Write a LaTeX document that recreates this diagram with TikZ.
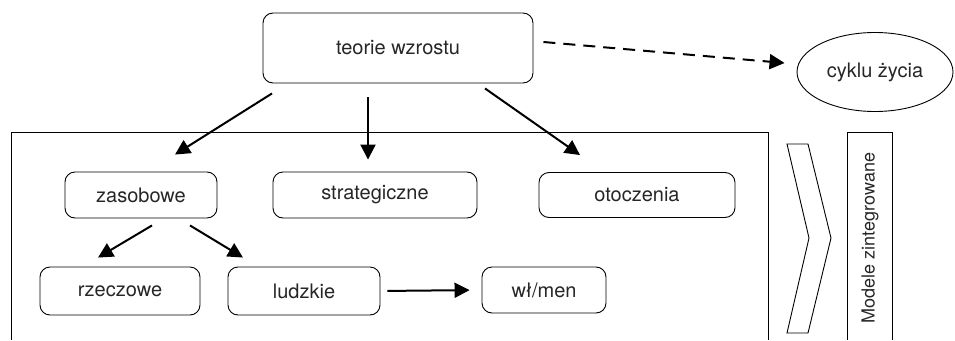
\documentclass[tikz,border=0pt]{standalone}
\usepackage{fontspec}
\setmainfont{TeX Gyre Heros}
\usepackage{tikz}
\usetikzlibrary{arrows.meta,shapes.geometric}

\begin{document}
\begin{tikzpicture}[x=1pt,y=-1pt,
  box/.style={draw, rounded corners=10pt, line width=0.9pt, inner sep=0pt,
    font=\fontsize{20}{24}\selectfont, text=black!85},
  arr/.style={line width=2pt, -{Triangle[length=15pt,width=15pt]}},
  frame/.style={line width=0.9pt}]
\useasboundingbox (0,0) rectangle (955,340);
\draw[frame] (11,340) |- (768,132) -- (768,340);
\draw[frame] (847,340) |- (892,132) -- (892,340);
\draw[frame] (787,144) -- (808,144) -- (831,238) -- (808,333) -- (787,333) -- (809,238) -- cycle;
\node[box, minimum width=270pt, minimum height=70pt] (teorie) at (398,48) {teorie wzrostu};
\node[draw, ellipse, line width=0.9pt, minimum width=156pt, minimum height=79pt, inner sep=0pt,
  font=\fontsize{20}{24}\selectfont, text=black!85] (cykl) at (875,72) {cyklu życia};
\node[box, minimum width=152pt, minimum height=46pt] (zasobowe) at (141,195) {zasobowe};
\node[box, minimum width=204pt, minimum height=46pt] (strategiczne) at (375,195) {strategiczne};
\node[box, minimum width=196pt, minimum height=45pt] (otoczenia) at (637,195) {otoczenia};
\node[box, minimum width=160pt, minimum height=48pt] (rzeczowe) at (120,291) {rzeczowe};
\node[box, minimum width=152pt, minimum height=48pt] (ludzkie) at (304,291) {ludzkie};
\node[box, minimum width=124pt, minimum height=46pt] (wlmen) at (544,290) {wł/men};
\node[rotate=90, font=\fontsize{18}{22}\selectfont, text=black!85] (modele) at (870,238) {Modele zintegrowane};
% strzalki
\draw[arr] ([xshift=-126pt,yshift=-10pt]teorie.south) -- ([xshift=34pt,yshift=17pt]zasobowe.north);
\draw[arr] ([xshift=-30pt,yshift=-14pt]teorie.south) -- ([xshift=-7pt,yshift=12pt]strategiczne.north);
\draw[arr] ([xshift=87pt,yshift=-5pt]teorie.south) -- ([xshift=-57pt,yshift=17pt]otoczenia.north);
\draw[arr, dashed, dash pattern=on 12pt off 8pt] ([xshift=10pt,yshift=6pt]teorie.east) -- ([xshift=-12pt,yshift=9pt]cykl.west);
\draw[arr] ([xshift=11pt,yshift=-7pt]zasobowe.south) -- ([xshift=-22pt,yshift=9pt]rzeczowe.north);
\draw[arr] ([xshift=49pt,yshift=-7pt]zasobowe.south) -- ([xshift=-61pt,yshift=9pt]ludzkie.north);
\draw[arr, shorten <=7pt, shorten >=12pt] (ludzkie.east) -- (wlmen.west);
\end{tikzpicture}
\end{document}
